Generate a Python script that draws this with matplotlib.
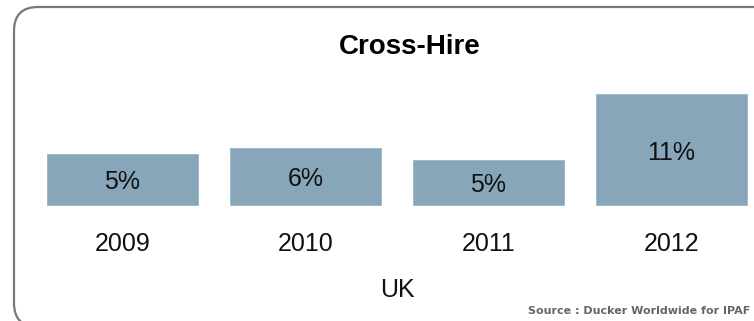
import matplotlib
matplotlib.use("Agg")
import matplotlib.pyplot as plt
from matplotlib.patches import FancyBboxPatch
from matplotlib.transforms import IdentityTransform

years = ["2009", "2010", "2011", "2012"]
values = [5.1, 5.7, 4.5, 11.0]
value_labels = ["5%", "6%", "5%", "11%"]
title = "Cross-Hire"
group_label = "UK"
source = "Source : Ducker Worldwide for IPAF"

plt.rcParams['font.family'] = ['Liberation Sans', 'DejaVu Sans']

W, H, DPI = 754, 321, 100
fig = plt.figure(figsize=(W / DPI, H / DPI), dpi=DPI)
fig.patch.set_facecolor("white")

# rounded frame (pixel coordinates)
frame = FancyBboxPatch((14, -6), 780, 321 - 7 + 6,
                       boxstyle="round,pad=0,rounding_size=24",
                       transform=IdentityTransform(), fill=False,
                       edgecolor="#777777", linewidth=1.6)
fig.patches.append(frame)

ax = fig.add_axes([0, 0, 1, 1])
ax.set_xlim(-0.669, 3.451)
ax.set_ylim(-11.54, 20.4)
ax.axis("off")

x = list(range(len(years)))
bars = ax.bar(x, values, width=0.825, color="#87a6b9", edgecolor="#9db5c4", linewidth=0.6)

for xi, v, lab in zip(x, values, value_labels):
    ax.text(xi, v / 2 - 0.3, lab, ha="center", va="center", fontsize=18, color="#111111")

for xi, yr in zip(x, years):
    ax.text(xi, -3.9, yr, ha="center", va="center", fontsize=18, color="#111111")

ax.text(1.5, -8.5, group_label, ha="center", va="center", fontsize=18, color="#111111")

fig.text(410 / W, 1 - 47 / H, title, ha="center", va="center", fontsize=20,
         fontweight="bold", color="#000000")

fig.text(750 / W, 1 - 311 / H, source, ha="right", va="center", fontsize=8,
         fontweight="bold", color="#666666", family="DejaVu Sans")

fig.savefig("out.png", dpi=DPI)
